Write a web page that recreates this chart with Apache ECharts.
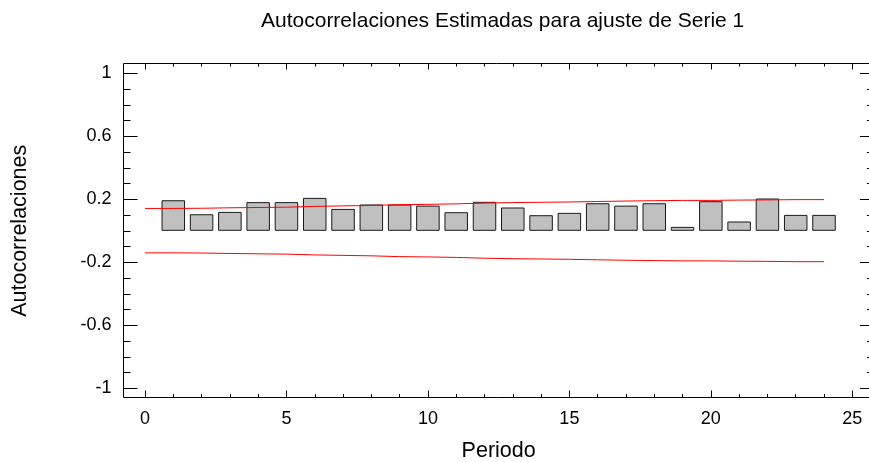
<!DOCTYPE html>
<html>
<head>
<meta charset="utf-8">
<script src="https://cdn.jsdelivr.net/npm/echarts@6/dist/echarts.min.js"></script>
<style>
  html, body { margin: 0; padding: 0; background: #fff; }
  #chart { width: 869px; height: 462px; }
</style>
</head>
<body>
<div id="chart"></div>
<script>
// Lags of the estimated autocorrelations
const lags = [1, 2, 3, 4, 5, 6, 7, 8, 9, 10, 11, 12, 13, 14, 15, 16, 17, 18, 19, 20, 21, 22, 23, 24];
const autocorr = [0.194, 0.105, 0.120, 0.182, 0.182, 0.209, 0.139, 0.167, 0.167, 0.160, 0.118, 0.184,
                  0.148, 0.099, 0.114, 0.175, 0.160, 0.175, 0.025, 0.188, 0.059, 0.205, 0.101, 0.101];

// Probability limits drawn around zero
const limitLags = [0, 1, 2, 3, 4, 5, 6, 7, 8, 9, 10, 11, 12, 13, 14, 15, 16, 17, 18, 19, 20, 21, 22, 23, 24];
const upperLimit = [0.142, 0.142, 0.143, 0.146, 0.148, 0.150, 0.155, 0.158, 0.161, 0.166, 0.168, 0.171, 0.176,
                    0.179, 0.181, 0.183, 0.186, 0.189, 0.191, 0.193, 0.193, 0.195, 0.196, 0.198, 0.198];
const lowerLimit = [-0.140, -0.140, -0.141, -0.144, -0.146, -0.148, -0.153, -0.156, -0.159, -0.164, -0.166, -0.169, -0.174,
                    -0.177, -0.179, -0.181, -0.184, -0.187, -0.189, -0.191, -0.191, -0.193, -0.194, -0.196, -0.196];

// Axis ranges and tick steps
const xMin = 0, xMax = 25, xStep = 5;
const yMin = -1, yMax = 1, yStep = 0.4;

const FONT = 'Liberation Sans, Arial, sans-serif';

// Inner plotting rectangle (spans the tick range) and the surrounding frame
const inner = { left: 145, top: 73.3, width: 707.3, height: 315 };
const frame = { x: 123.5, y: 63.5, width: 750.5, height: 334 };
const offLeft = inner.left - frame.x;
const offRight = (frame.x + frame.width) - (inner.left + inner.width);
const offTop = inner.top - frame.y;
const offBottom = (frame.y + frame.height) - (inner.top + inner.height);

const chart = echarts.init(document.getElementById('chart'), null, { renderer: 'canvas' });

function fmtY(v) {
  const r = Math.round(v * 10) / 10;
  return String(r);
}

const hiddenLine = { show: false, onZero: false };

chart.setOption({
  animation: false,
  backgroundColor: '#fff',
  textStyle: { fontFamily: FONT },
  title: {
    text: 'Autocorrelaciones Estimadas para ajuste de Serie 1',
    left: 256, top: 6,
    textStyle: { fontFamily: FONT, fontSize: 21, fontWeight: 'normal', color: '#000' }
  },
  grid: {
    left: inner.left, top: inner.top, width: inner.width, height: inner.height,
    containLabel: false,
    outerBoundsMode: 'none'
  },
  graphic: [{
    type: 'rect',
    shape: frame,
    style: { fill: null, stroke: '#000', lineWidth: 1 },
    silent: true,
    z: 100
  }],
  xAxis: [{
    type: 'value', position: 'bottom', offset: offBottom,
    min: xMin, max: xMax, interval: xStep,
    name: 'Periodo', nameLocation: 'middle', nameGap: 43,
    nameTextStyle: { fontFamily: FONT, fontSize: 21.5, color: '#000' },
    axisLine: hiddenLine,
    axisTick: { show: true, inside: true, length: 7, lineStyle: { color: '#000' } },
    minorTick: { show: true, splitNumber: 5, length: 3.5, lineStyle: { color: '#000' } },
    axisLabel: { fontFamily: FONT, fontSize: 18, color: '#000', margin: 13 },
    splitLine: { show: false }
  }, {
    type: 'value', position: 'top', offset: offTop,
    min: xMin, max: xMax, interval: xStep,
    axisLine: hiddenLine,
    axisTick: { show: true, inside: true, length: 6, lineStyle: { color: '#000' } },
    minorTick: { show: true, splitNumber: 5, length: 3, lineStyle: { color: '#000' } },
    axisLabel: { show: false },
    splitLine: { show: false }
  }],
  yAxis: [{
    type: 'value', position: 'left', offset: offLeft,
    min: yMin, max: yMax, interval: yStep,
    name: 'Autocorrelaciones', nameLocation: 'middle', nameGap: 92, nameRotate: 90,
    nameTextStyle: { fontFamily: FONT, fontSize: 21.5, color: '#000' },
    axisLine: hiddenLine,
    axisTick: { show: true, inside: true, length: 14, lineStyle: { color: '#000' } },
    minorTick: { show: true, splitNumber: 4, length: 7, lineStyle: { color: '#000' } },
    axisLabel: { fontFamily: FONT, fontSize: 18, color: '#000', margin: 12, formatter: fmtY },
    splitLine: { show: false }
  }, {
    type: 'value', position: 'right', offset: offRight,
    min: yMin, max: yMax, interval: yStep,
    axisLine: hiddenLine,
    axisTick: { show: true, inside: true, length: 14, lineStyle: { color: '#000' } },
    minorTick: { show: true, splitNumber: 4, length: 7, lineStyle: { color: '#000' } },
    axisLabel: { show: false },
    splitLine: { show: false }
  }],
  series: [{
    type: 'bar',
    xAxisIndex: 0, yAxisIndex: 0,
    data: lags.map((l, i) => [l, autocorr[i]]),
    barWidth: 23.5,
    itemStyle: { color: '#c0c0c0', borderColor: '#1a1a1a', borderWidth: 1 },
    z: 2
  }, {
    type: 'line',
    xAxisIndex: 0, yAxisIndex: 0,
    data: limitLags.map((l, i) => [l, upperLimit[i]]),
    showSymbol: false, symbol: 'none',
    lineStyle: { color: '#ff0000', width: 1 },
    z: 3
  }, {
    type: 'line',
    xAxisIndex: 0, yAxisIndex: 0,
    data: limitLags.map((l, i) => [l, lowerLimit[i]]),
    showSymbol: false, symbol: 'none',
    lineStyle: { color: '#ff0000', width: 1 },
    z: 3
  }]
});
</script>
</body>
</html>
